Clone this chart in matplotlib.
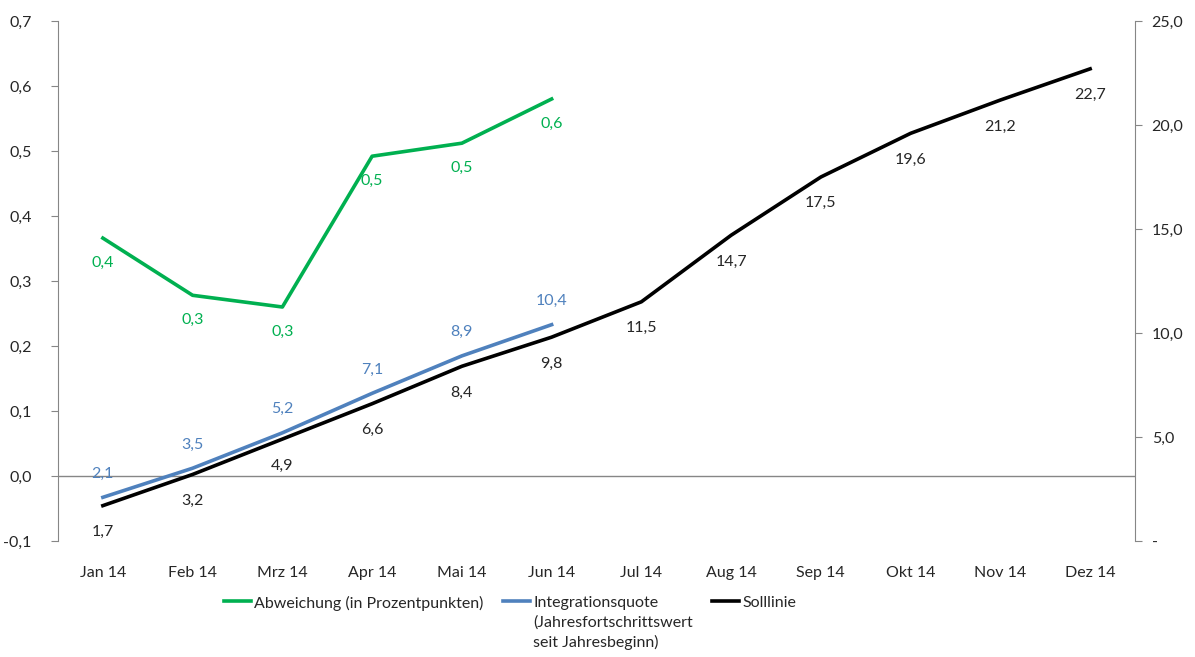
import matplotlib.pyplot as plt
from matplotlib.ticker import FuncFormatter, MultipleLocator

plt.rcParams['font.family'] = ['Lato', 'DejaVu Sans']
plt.rcParams['font.size'] = 11.5

# data
months = ['Jan 14', 'Feb 14', 'Mrz 14', 'Apr 14', 'Mai 14', 'Jun 14',
          'Jul 14', 'Aug 14', 'Sep 14', 'Okt 14', 'Nov 14', 'Dez 14']
abweichung = [0.366, 0.278, 0.26, 0.492, 0.512, 0.58]
integration = [2.1, 3.5, 5.2, 7.1, 8.9, 10.4]
soll = [1.7, 3.2, 4.9, 6.6, 8.4, 9.8, 11.5, 14.7, 17.5, 19.6, 21.2, 22.7]

green = '#00B050'
blue = '#4F81BD'
gray = '#868686'
txt = '#262626'


def de(v, d=1):
    return f'{v:.{d}f}'.replace('.', ',')


fig = plt.figure(figsize=(11.95, 6.57), dpi=100)
ax = fig.add_axes([58/1195, 116/657, 1077/1195, 520/657])
ax2 = ax.twinx()

x_all = list(range(len(months)))
x_half = x_all[:len(abweichung)]

ax.axhline(0, color=gray, lw=1, zorder=1)
l1, = ax.plot(x_half, abweichung, color=green, lw=2.6, zorder=3,
              label='Abweichung (in Prozentpunkten)')
l2, = ax2.plot(x_half, integration, color=blue, lw=2.6, zorder=3,
               label='Integrationsquote\n(Jahresfortschrittswert\nseit Jahresbeginn)')
l3, = ax2.plot(x_all, soll, color='black', lw=2.6, zorder=2, label='Solllinie')

for x, v in zip(x_half, abweichung):
    ax.annotate(de(v), (x, v), xytext=(0, -18), textcoords='offset points',
                ha='center', va='center', color=green)
for x, v in zip(x_half, integration):
    ax2.annotate(de(v), (x, v), xytext=(0, 17), textcoords='offset points',
                 ha='center', va='center', color=blue)
for x, v in zip(x_all, soll):
    ax2.annotate(de(v), (x, v), xytext=(0, -19), textcoords='offset points',
                 ha='center', va='center', color=txt)

ax.set_xlim(-0.5, 11.5)
ax.set_ylim(-0.1, 0.7)
ax2.set_ylim(0, 25)
ax.yaxis.set_major_locator(MultipleLocator(0.1))
ax2.yaxis.set_major_locator(MultipleLocator(5))
ax.yaxis.set_major_formatter(FuncFormatter(lambda v, p: de(v)))
ax2.yaxis.set_major_formatter(FuncFormatter(lambda v, p: '-' if abs(v) < 1e-9 else de(v)))

ax.set_xticks(x_all)
ax.set_xticklabels(months)
ax.tick_params(axis='x', length=0, pad=18, colors=txt)
ax.tick_params(axis='y', length=5, pad=14, color=gray, labelcolor=txt)
ax2.tick_params(axis='y', length=5, pad=7, color=gray, labelcolor=txt)

for a in (ax, ax2):
    for s in ('top', 'bottom'):
        a.spines[s].set_visible(False)
    for s in ('left', 'right'):
        a.spines[s].set_color(gray)
ax2.spines['left'].set_visible(False)
ax.spines['right'].set_visible(False)

leg = fig.legend(handles=[l1, l2, l3], loc='upper center', bbox_to_anchor=(0.427, 0.093),
                 ncol=3, frameon=False, handlelength=1.7, handletextpad=0.2,
                 columnspacing=1.2, borderpad=0, borderaxespad=0)
for t in leg.get_texts():
    t.set_color(txt)
    t.set_linespacing(1.45)
# top-align handles with the first line of multi-line labels
hb = leg._legend_handle_box
hb.align = 'top'
for col in hb.get_children():
    col.align = 'left'
    for item in col.get_children():
        item.align = 'top'

fig.savefig('out.png', dpi=100)
